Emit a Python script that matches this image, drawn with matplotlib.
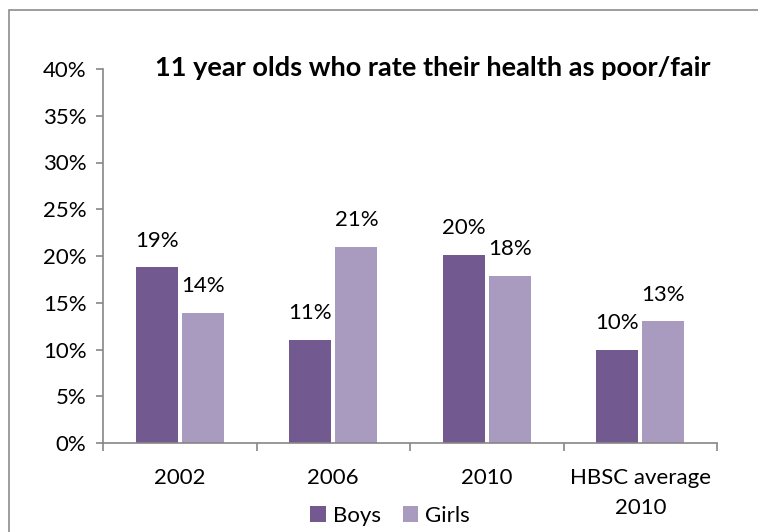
import numpy as np
import matplotlib.pyplot as plt
from matplotlib.patches import Rectangle

plt.rcParams['font.family'] = ['Lato', 'DejaVu Sans']

categories = ['2002', '2006', '2010', 'HBSC average\n2010']
boys = [18.8, 11.0, 20.1, 10.0]
girls = [13.9, 21.0, 17.9, 13.0]
yticks = [0, 5, 10, 15, 20, 25, 30, 35, 40]

boys_col = '#72598f'
girls_col = '#a99abf'
axis_col = '#868686'
fs = 16

fig = plt.figure(figsize=(7.58, 5.32), dpi=100)
# outer chart frame, runs off the right and bottom of the image
fig.patches.append(Rectangle((9/758, -0.1), 1.2, 1 - 10/532 + 0.1,
                             transform=fig.transFigure, fill=False,
                             edgecolor='#8c8c8c', linewidth=1.2))
ax = fig.add_axes([103/758, 1 - 443/532, 614/758, 374/532])

x = np.arange(len(categories))
w = 0.275
b1 = ax.bar(x - w/2 - 0.013, boys, w, color=boys_col, label='Boys')
b2 = ax.bar(x + w/2 + 0.013, girls, w, color=girls_col, label='Girls')

for bars, vals in ((b1, boys), (b2, girls)):
    for r, v in zip(bars, vals):
        ax.annotate('%d%%' % round(v), (r.get_x() + r.get_width()/2, v),
                    xytext=(0, 12), textcoords='offset points',
                    ha='center', va='bottom', fontsize=fs)

ax.set_xlim(-0.5, len(categories) - 0.5)
ax.set_ylim(0, 40)
ax.set_yticks(yticks)
ax.set_yticklabels(['%d%%' % t for t in yticks], fontsize=fs)
ax.set_xticks(x)
ax.set_xticklabels(categories, fontsize=fs, linespacing=1.65)
ax.set_xticks(np.arange(len(categories) + 1) - 0.5, minor=True)
ax.tick_params(axis='x', which='major', length=0, pad=18)
ax.tick_params(axis='x', which='minor', length=6, color=axis_col, width=1.2)
ax.tick_params(axis='y', length=5, color=axis_col, width=1.2, pad=7)
for s in ('top', 'right'):
    ax.spines[s].set_visible(False)
for s in ('left', 'bottom'):
    ax.spines[s].set_color(axis_col)
    ax.spines[s].set_linewidth(1.2)

fig.text(433/758, 1 - 68/532, '11 year olds who rate their health as poor/fair',
         ha='center', va='center', fontsize=19.5, fontweight='bold')

fig.legend(handles=[b1, b2], loc='center', bbox_to_anchor=(390/758, 1 - 516/532),
           ncol=2, frameon=False, fontsize=fs, handlelength=0.7,
           handleheight=0.7, handletextpad=0.3, columnspacing=1.0)

fig.savefig('out.png', dpi=100)
